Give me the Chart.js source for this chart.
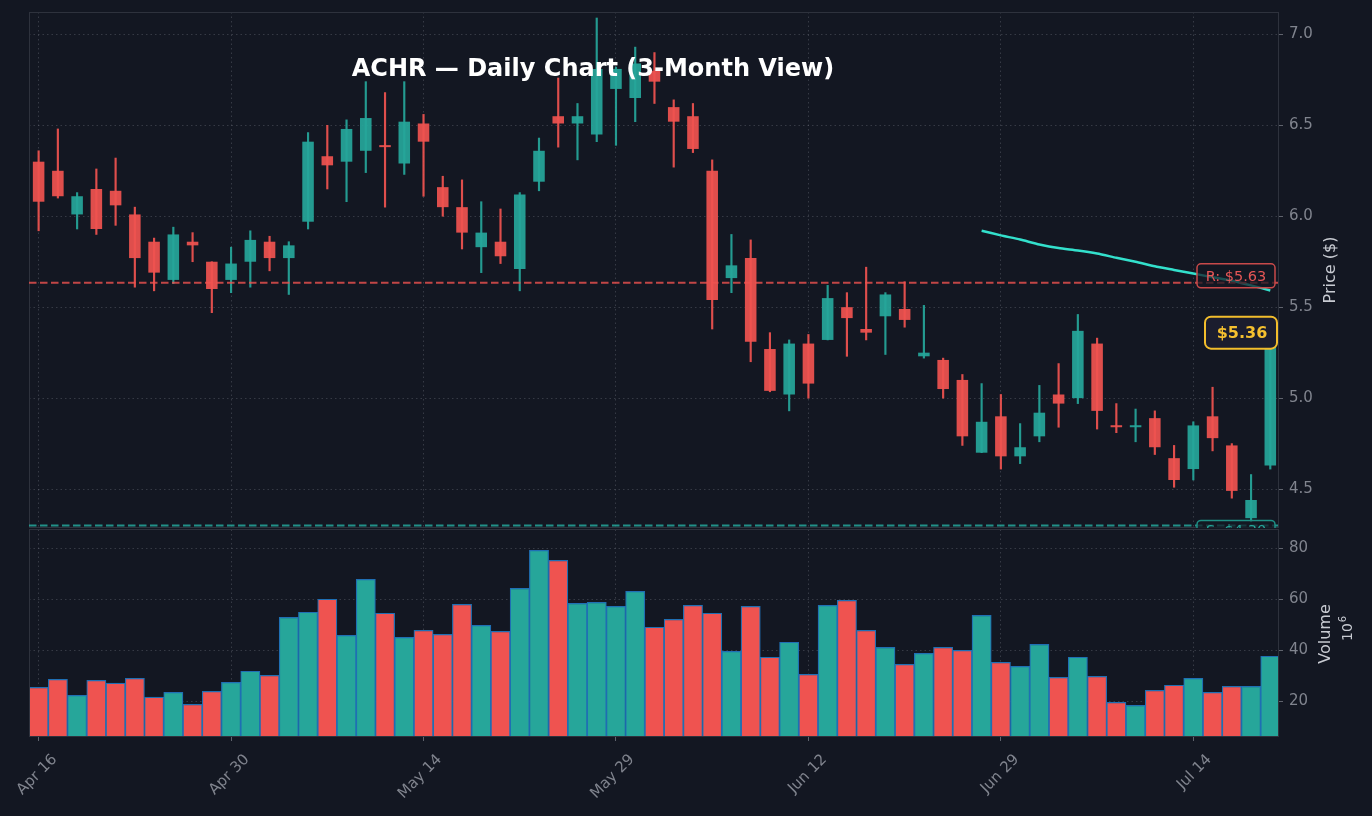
<!DOCTYPE html>
<html>
<head>
<meta charset="utf-8">
<title>ACHR Daily Chart</title>
<script src="https://cdn.jsdelivr.net/npm/chart.js@4.4.1/dist/chart.umd.min.js"></script>
<style>
  html, body { margin: 0; padding: 0; background: #131722; }
  #wrap { width: 1372px; height: 816px; }
</style>
</head>
<body>
<div id="wrap"><canvas id="chart" width="1372" height="816"></canvas></div>
<script>
// Koersdata per handelsdag (index 0 = Apr 16)
const opens = [6.30, 6.25, 6.01, 6.15, 6.14, 6.01, 5.86, 5.65, 5.86, 5.75,
  5.65, 5.75, 5.86, 5.77, 5.97, 6.33, 6.30, 6.36, 6.39, 6.29,
  6.51, 6.16, 6.05, 5.83, 5.86, 5.71, 6.19, 6.55, 6.51, 6.45,
  6.70, 6.65, 6.80, 6.60, 6.55, 6.25, 5.66, 5.77, 5.27, 5.02,
  5.30, 5.32, 5.50, 5.38, 5.45, 5.49, 5.23, 5.21, 5.10, 4.70,
  4.90, 4.68, 4.79, 5.02, 5.00, 5.30, 4.85, 4.84, 4.89, 4.67,
  4.61, 4.90, 4.74, 4.34, 4.63];
const highs = [6.36, 6.48, 6.13, 6.26, 6.32, 6.05, 5.88, 5.94, 5.91, 5.75,
  5.83, 5.92, 5.89, 5.86, 6.46, 6.50, 6.53, 6.74, 6.68, 6.74,
  6.56, 6.22, 6.20, 6.08, 6.04, 6.13, 6.43, 6.76, 6.62, 7.09,
  6.82, 6.93, 6.90, 6.64, 6.62, 6.31, 5.90, 5.87, 5.36, 5.32,
  5.35, 5.62, 5.58, 5.72, 5.58, 5.64, 5.51, 5.22, 5.13, 5.08,
  5.02, 4.86, 5.07, 5.19, 5.46, 5.33, 4.97, 4.94, 4.93, 4.74,
  4.87, 5.06, 4.75, 4.58, 5.40];
const lows = [5.92, 6.10, 5.93, 5.90, 5.95, 5.61, 5.59, 5.63, 5.75, 5.47,
  5.58, 5.61, 5.70, 5.57, 5.93, 6.15, 6.08, 6.24, 6.05, 6.23,
  6.11, 6.00, 5.82, 5.69, 5.74, 5.59, 6.14, 6.38, 6.31, 6.41,
  6.39, 6.52, 6.62, 6.27, 6.35, 5.38, 5.58, 5.20, 5.035, 4.93,
  5.00, 5.32, 5.23, 5.32, 5.24, 5.39, 5.22, 5.00, 4.74, 4.70,
  4.61, 4.64, 4.76, 4.84, 4.97, 4.83, 4.81, 4.76, 4.69, 4.51,
  4.55, 4.71, 4.45, 4.32, 4.61];
const closes = [6.08, 6.11, 6.11, 5.93, 6.06, 5.77, 5.69, 5.90, 5.84, 5.60,
  5.74, 5.87, 5.77, 5.84, 6.41, 6.28, 6.48, 6.54, 6.38, 6.52,
  6.41, 6.05, 5.91, 5.91, 5.78, 6.12, 6.36, 6.51, 6.55, 6.81,
  6.81, 6.84, 6.74, 6.52, 6.37, 5.54, 5.73, 5.31, 5.04, 5.30,
  5.08, 5.55, 5.44, 5.36, 5.57, 5.43, 5.25, 5.05, 4.79, 4.87,
  4.68, 4.73, 4.92, 4.97, 5.37, 4.93, 4.84, 4.85, 4.73, 4.55,
  4.85, 4.78, 4.49, 4.44, 5.36];
// Volume in miljoenen
const volumes = [25.4, 28.5, 22.2, 28.1, 27.0, 28.9, 21.5, 23.4, 18.7, 23.8,
  27.3, 31.7, 30.1, 52.9, 54.9, 60.0, 45.8, 67.8, 54.5, 45.0,
  47.8, 46.2, 58.0, 49.7, 47.4, 64.3, 79.2, 75.3, 58.4, 58.8,
  57.2, 63.1, 49.0, 52.1, 57.6, 54.5, 39.5, 57.2, 37.2, 43.1,
  30.5, 57.6, 59.6, 47.8, 41.1, 34.4, 38.7, 41.1, 39.9, 53.7,
  35.2, 33.6, 42.3, 29.3, 37.2, 29.7, 19.5, 18.3, 24.2, 26.2,
  28.9, 23.4, 25.8, 25.8, 37.6];
// 50-daags gemiddelde, begint bij index 49
const smaStart = 49;
const sma50 = [5.92, 5.895, 5.872, 5.845, 5.825, 5.812, 5.795, 5.772,
  5.75, 5.725, 5.705, 5.685, 5.665, 5.645, 5.62, 5.592];
const resistance = 5.634;
const support = 4.30;

const xTickIdx = [0, 10, 20, 30, 40, 50, 60];
const xTickLabels = ['Apr 16', 'Apr 30', 'May 14', 'May 29', 'Jun 12', 'Jun 29', 'Jul 14'];
const priceTicks = [4.5, 5.0, 5.5, 6.0, 6.5, 7.0];
const volumeTicks = [20, 40, 60, 80];

// Kleuren en lettertype
const BG = '#131722';
const UP = '#26a69a';
const DOWN = '#ef5350';
const GRID = 'rgba(120,124,136,0.35)';
const FRAME = '#2e323d';
const TICK_TEXT = '#80848e';
const TITLE_TEXT = '#c8cbd2';
const FONT = '"DejaVu Sans", sans-serif';

const idx = closes.map((_, i) => i);
const isUp = idx.map(i => closes[i] >= opens[i]);
const candleColors = isUp.map(u => u ? 'rgba(38,166,154,0.93)' : 'rgba(239,83,80,0.93)');
const volColors = isUp.map(u => u ? UP : DOWN);

function gridOpts() {
    return {
        color: GRID,
        lineWidth: 1,
        drawTicks: true,
        tickLength: 5,
        tickColor: '#5f636d',
        tickWidth: 1,
        tickBorderDash: [],
        offset: false
    };
}
// In v4 zit het streepjespatroon van de rasterlijnen in border.dash
const borderOpts = { display: false, dash: [1.5, 3] };

// Tekent kaders, steun/weerstand, titel en labels
const overlayPlugin = {
    id: 'overlay',
    beforeDraw(chart) {
        const ctx = chart.ctx;
        ctx.save();
        ctx.fillStyle = BG;
        ctx.fillRect(0, 0, chart.width, chart.height);
        ctx.restore();
    },
    afterDatasetsDraw(chart) {
        const { ctx, chartArea } = chart;
        const yP = chart.scales.y;
        const yV = chart.scales.yVol;
        const left = chartArea.left, right = chartArea.right;

        // panelkaders
        ctx.save();
        ctx.strokeStyle = FRAME;
        ctx.lineWidth = 1;
        ctx.strokeRect(left + 0.5, yP.top + 0.5, right - left, yP.bottom - yP.top - 1);
        ctx.strokeRect(left + 0.5, yV.top + 1.5, right - left, yV.bottom - yV.top - 1);
        ctx.restore();

        // steun- en weerstandslijnen
        const rY = yP.getPixelForValue(resistance);
        const sY = yP.getPixelForValue(support);
        ctx.save();
        ctx.beginPath();
        ctx.rect(left, yP.top, right - left, yP.bottom - yP.top);
        ctx.clip();
        ctx.lineWidth = 2;
        ctx.setLineDash([7.5, 3.5]);
        ctx.strokeStyle = 'rgba(239,83,80,0.8)';
        ctx.beginPath(); ctx.moveTo(left, rY); ctx.lineTo(right, rY); ctx.stroke();
        ctx.strokeStyle = 'rgba(38,166,154,0.85)';
        ctx.beginPath(); ctx.moveTo(left, sY); ctx.lineTo(right, sY); ctx.stroke();
        ctx.setLineDash([]);

        // titel
        ctx.fillStyle = '#ffffff';
        ctx.font = 'bold 24px ' + FONT;
        ctx.textAlign = 'center';
        ctx.textBaseline = 'alphabetic';
        ctx.fillText('ACHR \u2014 Daily Chart (3-Month View)', left + (right - left) * 0.4515, 76);

        // R- en S-labels
        function levelBox(text, y, textDy, stroke, color) {
            ctx.font = '14.5px ' + FONT;
            const w = 78, h = 24;
            const x = right - 3 - w;
            ctx.beginPath();
            ctx.roundRect(x, y, w, h, 4);
            ctx.fillStyle = 'rgba(19,23,34,0.72)';
            ctx.fill();
            ctx.lineWidth = 1.5;
            ctx.strokeStyle = stroke;
            ctx.stroke();
            ctx.fillStyle = color;
            ctx.textAlign = 'center';
            ctx.textBaseline = 'middle';
            ctx.fillText(text, x + w / 2, y + textDy);
        }
        levelBox('R: $' + resistance.toFixed(2), rY - 19, 13, '#c94a4a', '#e55656');
        levelBox('S: $' + support.toFixed(2), sY - 5, 10.5, '#1f8f85', '#26a69a');
        ctx.restore();

        // laatste koers
        const last = closes[closes.length - 1];
        const cY = yP.getPixelForValue(last);
        ctx.save();
        ctx.beginPath();
        ctx.roundRect(right - 73, cY - 16, 72, 32, 6);
        ctx.fillStyle = '#1b1d2e';
        ctx.fill();
        ctx.lineWidth = 2;
        ctx.strokeStyle = '#f2bd2c';
        ctx.stroke();
        ctx.fillStyle = '#f5c02f';
        ctx.font = 'bold 16px ' + FONT;
        ctx.textAlign = 'center';
        ctx.textBaseline = 'middle';
        ctx.fillText('$' + last.toFixed(2), right - 36, cY + 1);
        ctx.restore();

        // astitels
        ctx.save();
        ctx.fillStyle = TITLE_TEXT;
        ctx.textAlign = 'center';
        ctx.textBaseline = 'middle';
        ctx.font = '16px ' + FONT;
        ctx.translate(1331, (yP.top + yP.bottom) / 2);
        ctx.rotate(-Math.PI / 2);
        ctx.fillText('Price ($)', 0, 0);
        ctx.restore();

        ctx.save();
        ctx.fillStyle = TITLE_TEXT;
        ctx.textAlign = 'center';
        ctx.textBaseline = 'middle';
        ctx.font = '16px ' + FONT;
        ctx.translate(1326, (yV.top + yV.bottom) / 2 + 2);
        ctx.rotate(-Math.PI / 2);
        ctx.fillText('Volume', 0, 0);
        ctx.restore();

        ctx.save();
        ctx.fillStyle = TITLE_TEXT;
        ctx.textBaseline = 'middle';
        ctx.textAlign = 'left';
        ctx.translate(1348, (yV.top + yV.bottom) / 2 + 9);
        ctx.rotate(-Math.PI / 2);
        ctx.font = '14px ' + FONT;
        ctx.fillText('10', 0, 0);
        const w10 = ctx.measureText('10').width;
        ctx.font = '10px ' + FONT;
        ctx.fillText('6', w10 + 1, -5);
        ctx.restore();
    }
};

const ctx = document.getElementById('chart').getContext('2d');
new Chart(ctx, {
    type: 'bar',
    data: {
        datasets: [
            {
                type: 'line',
                label: 'SMA 50',
                data: sma50.map((v, k) => ({ x: smaStart + k, y: v })),
                borderColor: '#33e0cc',
                borderWidth: 2.5,
                pointRadius: 0,
                tension: 0.2,
                yAxisID: 'y',
                order: 0
            },
            {
                label: 'Body',
                data: idx.map(i => ({ x: i, y: [opens[i], closes[i]] })),
                backgroundColor: candleColors,
                borderWidth: 0,
                barPercentage: 0.6,
                categoryPercentage: 1,
                minBarLength: 2,
                grouped: false,
                yAxisID: 'y',
                order: 1
            },
            {
                label: 'Wick',
                data: idx.map(i => ({ x: i, y: [lows[i], highs[i]] })),
                backgroundColor: candleColors,
                borderWidth: 0,
                barThickness: 1.5,
                grouped: false,
                yAxisID: 'y',
                order: 2
            },
            {
                label: 'Volume',
                data: idx.map(i => ({ x: i, y: volumes[i] })),
                backgroundColor: volColors,
                borderColor: '#1f6fb4',
                borderWidth: 1.2,
                barPercentage: 1,
                categoryPercentage: 1,
                grouped: false,
                yAxisID: 'yVol',
                order: 3
            }
        ]
    },
    options: {
        responsive: false,
        animation: false,
        devicePixelRatio: 1,
        layout: { padding: { left: 29, top: 12, right: 0, bottom: 0 } },
        plugins: { legend: { display: false }, tooltip: { enabled: false } },
        scales: {
            x: {
                type: 'linear',
                min: -0.5,
                max: 64.4,
                offset: false,
                afterBuildTicks: s => { s.ticks = xTickIdx.map(v => ({ value: v })); },
                afterFit: s => { s.height = 80; s.paddingLeft = 0; s.paddingRight = 0; },
                grid: gridOpts(),
                border: borderOpts,
                ticks: {
                    color: TICK_TEXT,
                    font: { family: FONT, size: 15 },
                    minRotation: 45,
                    maxRotation: 45,
                    autoSkip: false,
                    padding: 10,
                    labelOffset: 16,
                    callback: v => xTickLabels[xTickIdx.indexOf(v)] ?? ''
                }
            },
            y: {
                type: 'linear',
                position: 'right',
                stack: 'panels',
                stackWeight: 516,
                min: 4.286,
                max: 7.123,
                afterBuildTicks: s => { s.ticks = priceTicks.map(v => ({ value: v })); },
                afterFit: s => { s.width = 94; s.paddingTop = 0; s.paddingBottom = 0; },
                grid: gridOpts(),
                border: borderOpts,
                ticks: {
                    color: TICK_TEXT,
                    font: { family: FONT, size: 15 },
                    padding: 6,
                    callback: v => v.toFixed(1)
                }
            },
            yVol: {
                type: 'linear',
                position: 'right',
                stack: 'panels',
                stackWeight: 208,
                min: 6.25,
                max: 88,
                afterBuildTicks: s => { s.ticks = volumeTicks.map(v => ({ value: v })); },
                afterFit: s => { s.width = 94; s.paddingTop = 0; s.paddingBottom = 0; },
                grid: gridOpts(),
                border: borderOpts,
                ticks: {
                    color: TICK_TEXT,
                    font: { family: FONT, size: 15 },
                    padding: 6,
                    callback: v => String(v)
                }
            }
        }
    },
    plugins: [overlayPlugin]
});
</script>
</body>
</html>
